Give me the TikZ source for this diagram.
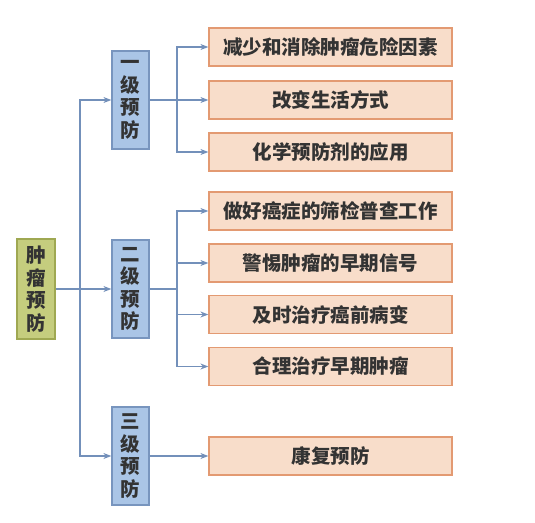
\documentclass[tikz,border=0pt]{standalone}
\usepackage{fontspec}
\setmainfont{Noto Sans CJK SC}
\usepackage{tikz}
\usetikzlibrary{arrows.meta, positioning}

\definecolor{rootfill}{HTML}{C5CD7E}
\definecolor{rootline}{HTML}{9FA852}
\definecolor{levelfill}{HTML}{AAC5E6}
\definecolor{levelline}{HTML}{7895BE}
\definecolor{leaffill}{HTML}{F8DDCA}
\definecolor{leafline}{HTML}{E39A72}
\definecolor{linkblue}{HTML}{7390BA}
\definecolor{inkgray}{HTML}{333333}

\begin{document}
\begin{tikzpicture}[
  x=1pt, y=-1pt,
  every node/.style={text=inkgray, inner sep=0pt, font=\fontsize{19.5}{22.5}\selectfont\bfseries},
  root/.style={draw=rootline, fill=rootfill, line width=1.2pt, minimum width=38pt, minimum height=100pt, align=center},
  level/.style={draw=levelline, fill=levelfill, line width=1.2pt, minimum width=37pt, minimum height=98pt, align=center},
  leaf/.style={draw=leafline, fill=leaffill, line width=1.2pt, minimum width=243pt, minimum height=38pt},
  arr/.style={-{Stealth[length=8pt, width=6pt]}, line width=1.3pt, draw=linkblue, color=linkblue}
]
\useasboundingbox (0,0) rectangle (535,522);

% root and the three levels
\node[root] (root) at (36,289) {肿\\瘤\\预\\防};
\node[level] (L1) at (130.5,100) {一\\级\\预\\防};
\node[level] (L2) at (130.5,289) {二\\级\\预\\防};
\node[level] (L3) at (130.5,456) {三\\级\\预\\防};

% measures
\node[leaf] (a1) at (330.5,47) {减少和消除肿瘤危险因素};
\node[leaf] (a2) at (330.5,100) {改变生活方式};
\node[leaf] (a3) at (330.5,152) {化学预防剂的应用};
\node[leaf] (b1) at (330.5,211) {做好癌症的筛检普查工作};
\node[leaf] (b2) at (330.5,263) {警惕肿瘤的早期信号};
\node[leaf] (b3) at (330.5,314.5) {及时治疗癌前病变};
\node[leaf] (b4) at (330.5,366.5) {合理治疗早期肿瘤};
\node[leaf] (c1) at (330.5,456) {康复预防};

% junction points
\coordinate (trunk) at (80,289);
\coordinate (ja) at (177,100);
\coordinate (jb) at (177,289);

\draw[arr] (root.east) -- (L2.west);
\draw[arr] (trunk) |- (L1.west);
\draw[arr] (trunk) |- (L3.west);

\draw[arr, -] (L1.east) -- (ja);
\foreach \n in {a1,a2,a3}
  \draw[arr] (ja) |- (\n.west);

\draw[arr, -] (L2.east) -- (jb);
\foreach \n in {b1,b2,b3,b4}
  \draw[arr] (jb) |- (\n.west);

\draw[arr] (L3.east) -- (c1.west);
\end{tikzpicture}
\end{document}
